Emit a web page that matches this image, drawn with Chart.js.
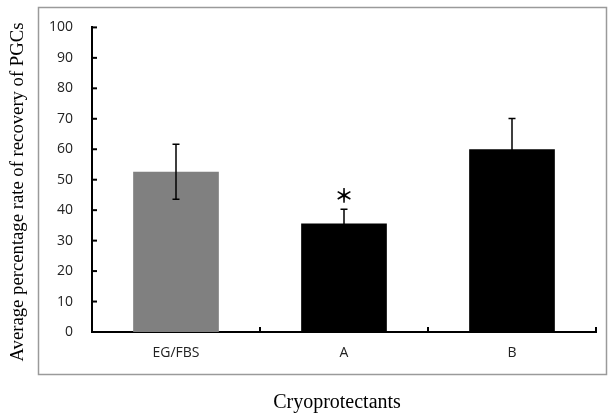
<!DOCTYPE html>
<html>
<head>
<meta charset="utf-8">
<script src="https://cdn.jsdelivr.net/npm/chart.js@4.4.0/dist/chart.umd.min.js"></script>
<style>
  html, body { margin: 0; padding: 0; background: #fff; }
  canvas { display: block; }
</style>
</head>
<body>
<canvas id="chart" width="608" height="415"></canvas>
<script>
// values
var categories = ["EG/FBS", "A", "B"];
var means = [52.6, 35.6, 60.0];
var errors = [9.0, 4.7, 10.1];
var stars = ["", "＊", ""];
var barColors = ["#808080", "#000000", "#000000"];
var yTicks = [0, 10, 20, 30, 40, 50, 60, 70, 80, 90, 100];

var xTitle = "Cryoprotectants";
var yTitle = "Average percentage rate of recovery of PGCs";

var tickFont = { family: "'Open Sans', sans-serif", size: 14 };

// frame, inside ticks, error bars, asterisk and axis titles
var extras = {
    id: "extras",
    beforeDraw: function(chart) {
        var ctx = chart.ctx;
        ctx.save();
        ctx.strokeStyle = "#9a9a9a";
        ctx.lineWidth = 1.5;
        ctx.strokeRect(38.5, 7.5, 568, 367);
        ctx.restore();
    },
    afterDatasetsDraw: function(chart) {
        var ctx = chart.ctx;
        var xs = chart.scales.x, ys = chart.scales.y;
        var meta = chart.getDatasetMeta(0);
        ctx.save();
        ctx.strokeStyle = "#000";
        ctx.lineWidth = 2;
        // y ticks (inside)
        yTicks.forEach(function(v) {
            var py = ys.getPixelForValue(v);
            ctx.beginPath();
            ctx.moveTo(xs.left, py);
            ctx.lineTo(xs.left + 5, py);
            ctx.stroke();
        });
        // x ticks at category boundaries (inside)
        for (var i = 1; i <= categories.length; i++) {
            var px = xs.left + (xs.right - xs.left) * i / categories.length;
            ctx.beginPath();
            ctx.moveTo(px, ys.bottom);
            ctx.lineTo(px, ys.bottom - 5);
            ctx.stroke();
        }
        // error bars
        ctx.lineWidth = 1.5;
        meta.data.forEach(function(bar, i) {
            var top = ys.getPixelForValue(means[i] + errors[i]);
            var bot = ys.getPixelForValue(means[i] - errors[i]);
            ctx.beginPath();
            ctx.moveTo(bar.x, top); ctx.lineTo(bar.x, bot);
            ctx.moveTo(bar.x - 3.5, top); ctx.lineTo(bar.x + 3.5, top);
            ctx.moveTo(bar.x - 3.5, bot); ctx.lineTo(bar.x + 3.5, bot);
            ctx.stroke();
            if (stars[i]) {
                ctx.fillStyle = "#000";
                ctx.font = "bold 19px 'Noto Sans CJK JP'";
                ctx.textAlign = "center";
                ctx.textBaseline = "middle";
                ctx.fillText(stars[i], bar.x, top - 13);
            }
        });
        ctx.restore();
    },
    afterDraw: function(chart) {
        var ctx = chart.ctx;
        ctx.save();
        ctx.fillStyle = "#000";
        ctx.font = "20px 'Liberation Serif'";
        ctx.textAlign = "center";
        ctx.textBaseline = "alphabetic";
        ctx.fillText(xTitle, 337, 408);
        ctx.translate(23, 192);
        ctx.rotate(-Math.PI / 2);
        ctx.font = "18.7px 'Liberation Serif'";
        ctx.fillText(yTitle, 0, 0);
        ctx.restore();
    }
};

new Chart(document.getElementById("chart"), {
    type: "bar",
    data: {
        labels: categories,
        datasets: [{
            data: means,
            backgroundColor: barColors,
            borderWidth: 0,
            categoryPercentage: 1,
            barPercentage: 0.51
        }]
    },
    options: {
        responsive: false,
        animation: false,
        devicePixelRatio: 1,
        layout: { padding: { left: 0, right: 12, top: 25, bottom: 0 } },
        plugins: { legend: { display: false }, tooltip: { enabled: false } },
        scales: {
            x: {
                grid: { display: false, drawTicks: false },
                border: { display: true, color: "#000", width: 2 },
                ticks: { font: tickFont, color: "#222", padding: 13, maxRotation: 0 },
                afterFit: function(s) { s.height = 83; }
            },
            y: {
                min: 0,
                max: 100,
                grid: { display: false, drawTicks: false },
                border: { display: true, color: "#000", width: 2 },
                ticks: { font: tickFont, color: "#222", padding: 19, stepSize: 10 },
                afterFit: function(s) { s.width = 92; }
            }
        }
    },
    plugins: [extras]
});
</script>
</body>
</html>
